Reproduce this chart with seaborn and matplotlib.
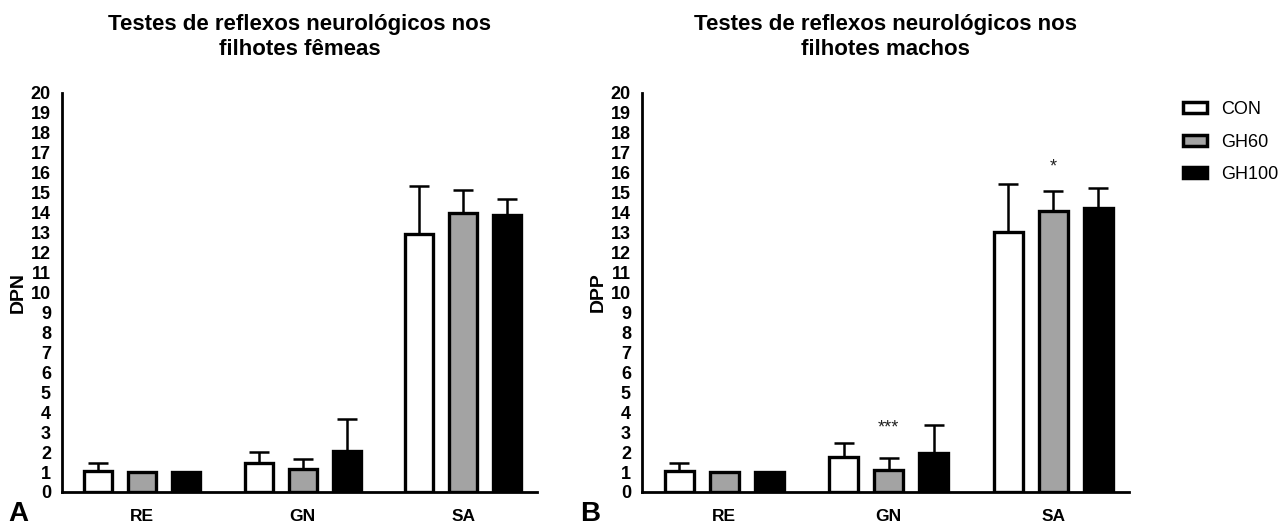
import numpy as np
import pandas as pd
import matplotlib
matplotlib.use("Agg")
import matplotlib.pyplot as plt
import seaborn as sns
from matplotlib.patches import Patch

# dados
testes = ["RE", "GN", "SA"]
grupos = ["CON", "GH60", "GH100"]
cores = {"CON": "#ffffff", "GH60": "#a3a3a3", "GH100": "#000000"}

# fêmeas (DPN)
femeas_media = {"CON": [1.05, 1.47, 12.95], "GH60": [1.0, 1.15, 13.97], "GH100": [1.0, 2.07, 13.9]}
femeas_erro = {"CON": [0.42, 0.55, 2.4], "GH60": [0.0, 0.52, 1.15], "GH100": [0.0, 1.6, 0.8]}

# machos (DPP)
machos_media = {"CON": [1.05, 1.75, 13.03], "GH60": [1.0, 1.08, 14.1], "GH100": [1.0, 1.95, 14.22]}
machos_erro = {"CON": [0.38, 0.73, 2.4], "GH60": [0.0, 0.6, 1.0], "GH100": [0.0, 1.43, 1.02]}

titulos = ["Testes de reflexos neurológicos nos\nfilhotes fêmeas",
           "Testes de reflexos neurológicos nos\nfilhotes machos"]
ylabels = ["DPN", "DPP"]
letras = ["A", "B"]
# asteriscos (painel B): (teste, grupo, altura, texto)
sig_machos = [("GN", "GH60", 3.2, "***"), ("SA", "GH60", 16.3, "*")]


def long_df(media, erro):
    rows = []
    for g in grupos:
        for i, t in enumerate(testes):
            rows.append({"teste": t, "grupo": g, "valor": media[g][i], "erro": erro[g][i]})
    return pd.DataFrame(rows)


sns.set_style("white")
plt.rcParams["font.family"] = ["Liberation Sans", "DejaVu Sans"]
plt.rcParams.update({"text.color": "black", "axes.labelcolor": "black",
                     "xtick.color": "black", "ytick.color": "black"})

fig = plt.figure(figsize=(12.85, 5.25), dpi=100)
ax1 = fig.add_axes([62 / 1285, 1 - 492 / 525, 475 / 1285, 399 / 525])
ax2 = fig.add_axes([642 / 1285, 1 - 492 / 525, 487 / 1285, 399 / 525])

paineis = [(ax1, femeas_media, femeas_erro), (ax2, machos_media, machos_erro)]
for k, (ax, media, erro) in enumerate(paineis):
    df = long_df(media, erro)
    sns.barplot(data=df, x="teste", y="valor", hue="grupo", order=testes,
                hue_order=grupos, palette=cores, errorbar=None,
                width=0.82, gap=0.36, edgecolor="black", linewidth=2.4,
                legend=False, ax=ax)
    # barras de erro (só para cima)
    pos = {}
    for g, cont in zip(grupos, ax.containers):
        for t, bar in zip(testes, cont):
            pos[(t, g)] = bar.get_x() + bar.get_width() / 2
    for _, r in df.iterrows():
        if r["erro"] > 0:
            ax.errorbar(pos[(r["teste"], r["grupo"])], r["valor"],
                        yerr=[[0], [r["erro"]]], fmt="none", ecolor="black",
                        elinewidth=1.8, capsize=7, capthick=1.8, zorder=1)
    ax.set_xlim(-0.5, 2.46)
    ax.set_ylim(0, 20)
    ax.set_yticks(range(0, 21))
    ax.set_xlabel("")
    ax.set_ylabel(ylabels[k], fontsize=14, fontweight="bold", labelpad=3)
    for s in ["top", "right"]:
        ax.spines[s].set_visible(False)
    for s in ["left", "bottom"]:
        ax.spines[s].set_linewidth(2)
        ax.spines[s].set_color("black")
    ax.tick_params(axis="y", direction="out", length=6, width=2, pad=2, labelsize=13)
    ax.tick_params(axis="x", direction="out", length=8, width=2, pad=4, labelsize=12.5)
    for lab in ax.get_xticklabels() + ax.get_yticklabels():
        lab.set_fontweight("bold")
    bb = ax.get_position()
    fig.text((bb.x0 + bb.x1) / 2, 1 - 37 / 525, titulos[k], ha="center", va="center",
             fontsize=16, fontweight="bold", linespacing=1.2)
    fig.text([18 / 1285, 590 / 1285][k], 1 - 514 / 525, letras[k],
             ha="center", va="center", fontsize=20, fontweight="bold")
    if k == 1:
        for t, g, h, txt in sig_machos:
            ax.text(pos[(t, g)], h, txt, ha="center", va="center", fontsize=13, color="#222222")

handles = [Patch(facecolor=cores[g], edgecolor="black", linewidth=2.5, label=g) for g in grupos]
fig.legend(handles=handles, loc="upper left", bbox_to_anchor=(1167 / 1285, 1 - 85 / 525),
           frameon=False, fontsize=13, handlelength=1.3, handleheight=0.55,
           handletextpad=0.8, labelspacing=0.85)

fig.savefig("out.png", dpi=100)
